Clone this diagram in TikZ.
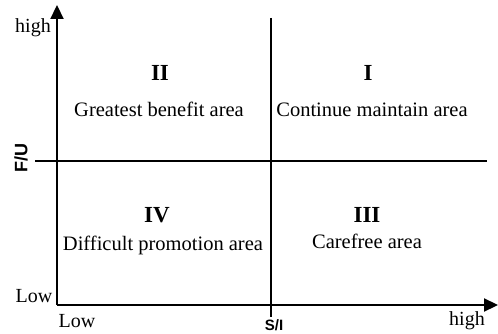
\documentclass[tikz,border=0pt]{standalone}
\usepackage{fontspec}
\setmainfont{Liberation Serif}
\newfontfamily\axisfont{Liberation Sans}
\usetikzlibrary{arrows.meta}

\tikzset{
  area/.style={anchor=base, font=\fontsize{20.5}{22}\selectfont},
  quad/.style={anchor=base, font=\fontsize{23}{25}\selectfont\bfseries},
  ends/.style={anchor=base, font=\fontsize{20}{22}\selectfont},
  axname/.style={font=\fontsize{18}{20}\selectfont\axisfont\bfseries}
}

\begin{document}
\begin{tikzpicture}[x=1pt, y=-1pt, >={Triangle[length=14pt, width=13pt]}]
      \useasboundingbox (0,0) rectangle (498,334);

      % axes
      \coordinate (o) at (57,305);
      \coordinate (ytop) at (57,5);
      \coordinate (xend) at (498,305);
      \draw[->, line width=2.2pt] (o) -- (ytop);
      \draw[->, line width=2.2pt] (o) -- (xend);

      % dividing lines
      \coordinate (vtop) at (271,18);
      \coordinate (vbot) at (271,317);
      \coordinate (hleft) at (35,161);
      \coordinate (hright) at (487,161);
      \draw[line width=1.6pt] (vtop) -- (vbot);
      \draw[line width=1.6pt] (hleft) -- (hright);

      % axis ends
      \node[ends] (yhigh) at (33,33) {high};
      \node[ends] (ylow) at (34,302) {Low};
      \node[ends] (xlow) at (77,327) {Low};
      \node[ends] (xhigh) at (467,325) {high};

      % axis names
      \node[axname, rotate=90] (fu) at (21,158) {F/U};
      \node[axname, anchor=north, inner sep=0pt, font=\fontsize{15}{17}\selectfont\axisfont\bfseries] (si) at (274,319) {S/I};

      % quadrants
      \node[quad] (q2) at (160,81) {II};
      \node[area] (a2) at (159,117) {Greatest benefit area};
      \node[quad] (q1) at (368,81) {I};
      \node[area] (a1) at (372,117) {Continue maintain area};
      \node[quad] (q4) at (157,222) {IV};
      \node[area] (a4) at (163,250) {Difficult promotion area};
      \node[quad] (q3) at (367,222) {III};
      \node[area] (a3) at (367,248) {Carefree area};

    \end{tikzpicture}
\end{document}
